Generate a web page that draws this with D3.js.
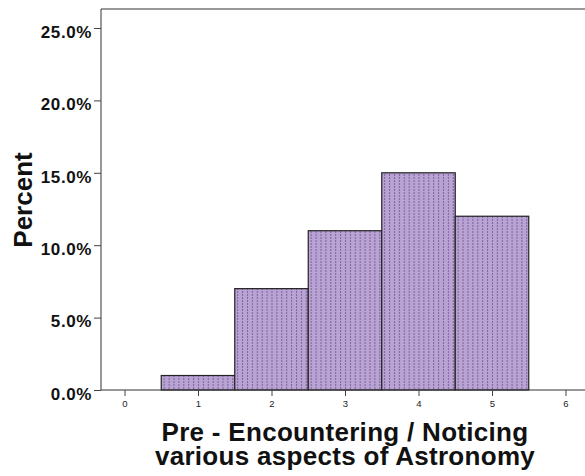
<!DOCTYPE html>
<html><head><meta charset="utf-8">
<script src="https://cdn.jsdelivr.net/npm/d3@7"></script>
<style>body{margin:0;background:#fff}svg{display:block}</style>
</head><body>
<svg id="c" width="585" height="476"></svg>
<script>
const categories = [1, 2, 3, 4, 5];
const percents = [1.0, 7.0, 11.0, 15.0, 12.0];
const yTicks = [0, 5, 10, 15, 20, 25];
const xTicks = [0, 1, 2, 3, 4, 5, 6];
const xTitle = ["Pre - Encountering / Noticing", "various aspects of Astronomy"];
const yTitle = "Percent";

const svg = d3.select("#c");
const x = d3.scaleLinear().domain([0, 6]).range([124.5, 565.5]);
const y = d3.scaleLinear().domain([0, 25]).range([390, 28]);
const frameL = 101, frameT = 9, frameR = 585;
const FONT = "Liberation Sans, Arial, sans-serif";

const defs = svg.append("defs");
const pat = defs.append("pattern").attr("id", "dots").attr("patternUnits", "userSpaceOnUse")
  .attr("width", 4.9).attr("height", 3);
pat.append("rect").attr("width", 4.9).attr("height", 3).attr("fill", "#b9a2d4");
pat.append("rect").attr("x", 2).attr("y", 0).attr("width", 1).attr("height", 2).attr("fill", "#7d6497");

// frame
svg.append("line").attr("x1", frameL).attr("x2", frameR).attr("y1", frameT).attr("y2", frameT)
  .attr("stroke", "#333").attr("stroke-width", 1);
svg.append("line").attr("x1", frameL).attr("x2", frameL).attr("y1", frameT).attr("y2", y(0))
  .attr("stroke", "#333").attr("stroke-width", 1);

// bars
svg.append("g").selectAll("rect").data(categories).join("rect")
  .attr("x", d => x(d - 0.5)).attr("width", d => x(d + 0.5) - x(d - 0.5))
  .attr("y", (d, i) => y(percents[i])).attr("height", (d, i) => y(0) - y(percents[i]))
  .attr("fill", "url(#dots)").attr("stroke", "#222").attr("stroke-width", 1.2);

// baseline
svg.append("line").attr("x1", frameL).attr("x2", frameR).attr("y1", y(0)).attr("y2", y(0))
  .attr("stroke", "#333").attr("stroke-width", 1);

// y axis
const ya = svg.append("g").attr("transform", `translate(${frameL},0)`)
  .call(d3.axisLeft(y).tickValues(yTicks).tickSize(7).tickFormat(d => d.toFixed(1) + "%"));
ya.select(".domain").remove();
ya.selectAll("line").attr("stroke", "#444");
ya.selectAll("text").attr("font-family", FONT)
  .attr("font-weight", "bold").attr("font-size", 17).attr("letter-spacing", 0.6)
  .attr("fill", "#111").attr("x", -9).attr("dy", "0.55em");

// x axis
const xa = svg.append("g").attr("transform", `translate(0,${y(0)})`)
  .call(d3.axisBottom(x).tickValues(xTicks).tickSize(6).tickFormat(d3.format("d")));
xa.select(".domain").remove();
xa.selectAll("line").attr("stroke", "#444");
xa.selectAll("text").attr("font-family", FONT)
  .attr("font-size", 9.5).attr("fill", "#222").attr("y", 10);

// titles
svg.append("text").attr("transform", "translate(32,200) rotate(-90)")
  .attr("text-anchor", "middle").attr("font-family", FONT)
  .attr("font-weight", "bold").attr("font-size", 26).attr("fill", "#111").text(yTitle);

svg.append("g").selectAll("text").data(xTitle).join("text")
  .attr("x", 345).attr("y", (d, i) => 441 + i * 24)
  .attr("text-anchor", "middle").attr("font-family", FONT)
  .attr("font-weight", "bold").attr("font-size", 26).attr("letter-spacing", 0.3)
  .attr("fill", "#111").text(d => d);
</script>
</body></html>
